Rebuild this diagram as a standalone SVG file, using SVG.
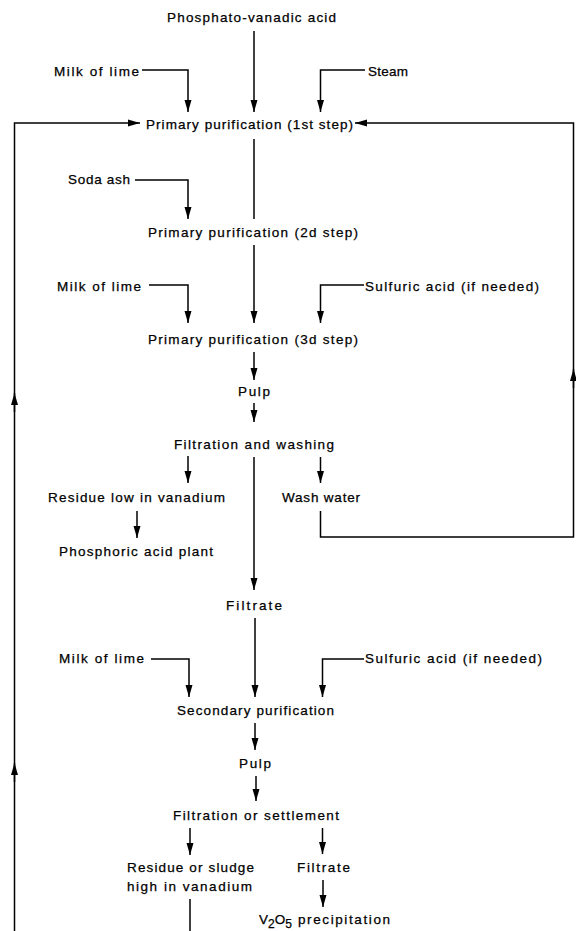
<svg xmlns="http://www.w3.org/2000/svg" width="576" height="931" viewBox="0 0 576 931">
<defs>
<marker id="ah" viewBox="-12 -4 12 8" markerWidth="12" markerHeight="8" refX="0" refY="0" orient="auto" markerUnits="userSpaceOnUse">
<path d="M0,0 L-12,-3.5 L-12,3.5 Z" fill="#000"/>
</marker>
<style>
text{font-family:"Liberation Sans",Arial,sans-serif;font-size:13.5px;fill:#000;stroke:#000;stroke-width:0.25}
.c path{fill:none;stroke:#000;stroke-width:1.5}
.c .a{marker-end:url(#ah)}
</style>
</defs>
<rect width="576" height="931" fill="#fff"/>
<g class="c" id="connectors">
<path class="a" d="M254 31 V112"/>
<path class="a" d="M142 70 H188 V112"/>
<path class="a" d="M365 70 H320.5 V112"/>
<path class="a" d="M14.5 931 V123 H140"/>
<path class="a" d="M14.5 412 V393"/>
<path class="a" d="M14.5 782 V763"/>
<path class="a" d="M320.5 511 V537 H573.5 V123 H355"/>
<path class="a" d="M573.5 388 V369"/>
<path d="M254 139 V219"/>
<path class="a" d="M135 180 H188 V219"/>
<path class="a" d="M254 245 V323"/>
<path class="a" d="M149 285 H188 V323"/>
<path class="a" d="M364 285 H320.5 V323"/>
<path class="a" d="M254 352 V380"/>
<path class="a" d="M254 403 V422"/>
<path class="a" d="M188 456 V483"/>
<path class="a" d="M320.5 457 V483"/>
<path class="a" d="M254 457 V590"/>
<path class="a" d="M137 511 V538"/>
<path class="a" d="M255 618 V697"/>
<path class="a" d="M151 659 H189 V697"/>
<path class="a" d="M364 659 H322.5 V697"/>
<path class="a" d="M255 723 V750"/>
<path class="a" d="M256 776 V801"/>
<path class="a" d="M190 828 V855"/>
<path class="a" d="M322.5 828 V854"/>
<path class="a" d="M323 880 V907"/>
<path d="M190 899 V931"/>
</g>
<g id="n1"><text x="167" y="22" textLength="169" lengthAdjust="spacing">Phosphato-vanadic acid</text></g>
<g id="n2"><text x="54" y="76" textLength="85" lengthAdjust="spacing">Milk of lime</text></g>
<g id="n3"><text x="368" y="76" textLength="40" lengthAdjust="spacing">Steam</text></g>
<g id="n4"><text x="146" y="129" textLength="207" lengthAdjust="spacing">Primary purification (1st step)</text></g>
<g id="n5"><text x="68" y="184" textLength="62" lengthAdjust="spacing">Soda ash</text></g>
<g id="n6"><text x="148" y="237" textLength="210" lengthAdjust="spacing">Primary purification (2d step)</text></g>
<g id="n7"><text x="57" y="291" textLength="84" lengthAdjust="spacing">Milk of lime</text></g>
<g id="n8"><text x="365" y="291" textLength="174" lengthAdjust="spacing">Sulfuric acid (if needed)</text></g>
<g id="n9"><text x="148" y="344" textLength="210" lengthAdjust="spacing">Primary purification (3d step)</text></g>
<g id="n10"><text x="238" y="396" textLength="32" lengthAdjust="spacing">Pulp</text></g>
<g id="n11"><text x="174" y="449" textLength="160" lengthAdjust="spacing">Filtration and washing</text></g>
<g id="n12"><text x="48" y="502" textLength="177" lengthAdjust="spacing">Residue low in vanadium</text></g>
<g id="n13"><text x="282" y="502" textLength="78" lengthAdjust="spacing">Wash water</text></g>
<g id="n14"><text x="59" y="556" textLength="154" lengthAdjust="spacing">Phosphoric acid plant</text></g>
<g id="n15"><text x="226" y="610" textLength="56" lengthAdjust="spacing">Filtrate</text></g>
<g id="n16"><text x="59" y="663" textLength="85" lengthAdjust="spacing">Milk of lime</text></g>
<g id="n17"><text x="365" y="663" textLength="177" lengthAdjust="spacing">Sulfuric acid (if needed)</text></g>
<g id="n18"><text x="177" y="715" textLength="157" lengthAdjust="spacing">Secondary purification</text></g>
<g id="n19"><text x="239" y="768" textLength="32" lengthAdjust="spacing">Pulp</text></g>
<g id="n20"><text x="173" y="820" textLength="166" lengthAdjust="spacing">Filtration or settlement</text></g>
<g id="n21"><text x="127" y="872" textLength="127" lengthAdjust="spacing">Residue or sludge</text><text x="127" y="891" textLength="125" lengthAdjust="spacing">high in vanadium</text></g>
<g id="n22"><text x="297" y="872" textLength="53" lengthAdjust="spacing">Filtrate</text></g>
<g id="n23"><text x="259" y="924">V<tspan dy="4" font-size="12">2</tspan><tspan dy="-4">O</tspan><tspan dy="4" font-size="12">5</tspan><tspan x="298" dy="-4" textLength="92" lengthAdjust="spacing">precipitation</tspan></text></g>
</svg>
